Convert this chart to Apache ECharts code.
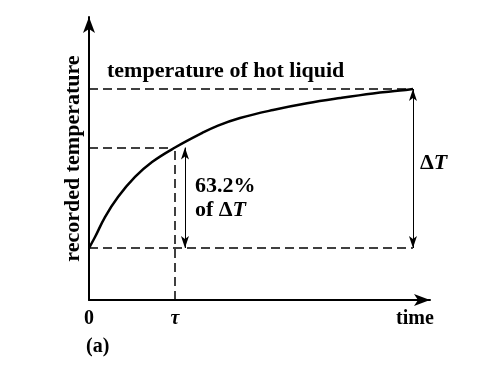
<!DOCTYPE html>
<html><head><meta charset="utf-8">
<script src="https://cdn.jsdelivr.net/npm/echarts@6/dist/echarts.min.js"></script>
<style>html,body{margin:0;padding:0;background:#fff}#c{width:487px;height:378px}</style>
</head><body><div id="c"></div>
<script>
// time in units of tau, temperature normalised (0 = start, 1 = hot liquid)
const curveTime = [0, 0.07, 0.186, 0.337, 0.535, 0.733, 1.0, 1.314, 1.5, 1.756, 2.14, 2.535, 2.919, 3.302, 3.616, 3.767];
const curveTemp = [0, 0.069, 0.195, 0.321, 0.447, 0.541, 0.632, 0.723, 0.77, 0.818, 0.868, 0.91, 0.943, 0.972, 0.99, 1.0];
const xTickValues = [0, 1, 3.79];
const xTickLabels = ['0', '{i|τ}', 'time'];
const tau = 1, frac = 0.632, endTime = 3.767, arrowTime = 1.116;
const xMax = 3.965, yMin = -0.327, yMax = 1.453;

const font = '"Liberation Serif", "DejaVu Serif", serif';
const chart = echarts.init(document.getElementById('c'), null, {renderer: 'canvas'});
const dash = {type: [9, 5], width: 1.5, color: '#000'};
const thin = {type: 'solid', width: 1, color: '#000'};
const ital = {fontStyle: 'italic', fontWeight: 'bold', fontSize: 22, fontFamily: font, fill: '#000', lineHeight: 24};
chart.setOption({
  animation: false,
  grid: {left: 89, top: 17, right: 57, bottom: 78},
  xAxis: {
    type: 'value', min: 0, max: xMax,
    axisLine: {show: true, onZero: false, symbol: ['none', 'arrow'], symbolSize: [9, 16], lineStyle: {color: '#000', width: 2}},
    axisTick: {show: false},
    splitLine: {show: false},
    axisLabel: {
      customValues: xTickValues, margin: 9, color: '#000', fontFamily: font, fontWeight: 'bold', fontSize: 20,
      formatter: v => { const i = xTickValues.indexOf(v); return i >= 0 ? xTickLabels[i] : ''; },
      rich: {i: {fontStyle: 'italic', fontFamily: font, fontWeight: 'bold', fontSize: 20, color: '#000'}}
    }
  },
  yAxis: {
    type: 'value', min: yMin, max: yMax,
    name: 'recorded temperature', nameLocation: 'middle', nameRotate: 90, nameGap: 5,
    nameTextStyle: {color: '#000', fontFamily: font, fontWeight: 'bold', fontSize: 22},
    axisLine: {show: true, onZero: false, symbol: ['none', 'arrow'], symbolSize: [9, 16], lineStyle: {color: '#000', width: 2}},
    axisTick: {show: false}, axisLabel: {show: false}, splitLine: {show: false}
  },
  series: [
    {type: 'line', data: curveTime.map((t, i) => [t, curveTemp[i]]), smooth: 0.4, symbol: 'none',
     lineStyle: {color: '#000', width: 2.5}, z: 5},
    {type: 'line', data: [], markLine: {silent: true, symbol: 'none', label: {show: false}, lineStyle: dash, data: [
      [{coord: [0, 1]}, {coord: [endTime, 1]}],
      [{coord: [0, frac]}, {coord: [tau, frac]}],
      [{coord: [0, 0]}, {coord: [endTime, 0]}],
      [{coord: [tau, yMin]}, {coord: [tau, frac]}]
    ]}},
    {type: 'line', data: [], markLine: {silent: true, symbol: ['arrow', 'arrow'], symbolSize: [6, 12], label: {show: false}, lineStyle: thin, data: [
      [{coord: [arrowTime, 0]}, {coord: [arrowTime, frac]}],
      [{coord: [endTime, 0]}, {coord: [endTime, 1]}]
    ]}}
  ],
  graphic: [
    {type: 'text', left: 107, top: 60, style: {text: 'temperature of hot liquid', font: 'bold 22px ' + font, fill: '#000'}},
    {type: 'text', left: 195, top: 174, style: {text: '63.2%\nof Δ{i|T}', font: 'bold 22px ' + font, fill: '#000', lineHeight: 24, rich: {i: ital}}},
    {type: 'text', left: 420, top: 152, style: {text: 'Δ{i|T}', font: 'bold 22px ' + font, fill: '#000', rich: {i: ital}}},
    {type: 'text', left: 86, top: 337, style: {text: '(a)', font: 'bold 20px ' + font, fill: '#000'}}
  ]
});
</script></body></html>
